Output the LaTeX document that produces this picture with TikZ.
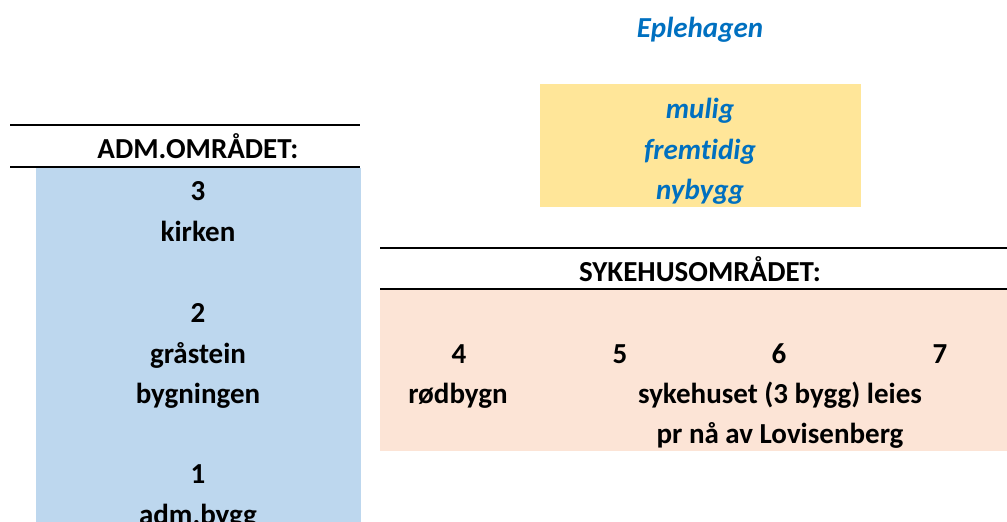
\documentclass[tikz,border=0pt]{standalone}
\usepackage{fontspec}
\setmainfont[Ligatures=NoCommon]{Carlito}
\definecolor{txtblue}{HTML}{0070C0}
\definecolor{yel}{HTML}{FFE699}
\definecolor{lblue}{HTML}{BDD7EE}
\definecolor{pink}{HTML}{FCE4D6}
\tikzset{
  lbl/.style={anchor=base, inner sep=0pt, font=\fontsize{29}{34}\selectfont\bfseries},
  blu/.style={lbl, text=txtblue, font=\fontsize{29}{34}\selectfont\bfseries\itshape},
  rule/.style={line width=2pt, black},
}
\begin{document}
\begin{tikzpicture}[x=1pt,y=-1pt]
\useasboundingbox (0,0) rectangle (1007,522);
\clip (0,0) rectangle (1007,522);
% filled areas
\fill[yel] (540,84) rectangle (861,207);
\fill[lblue] (36,168) rectangle (361,530);
\fill[pink] (380,290) rectangle (1007,451);
% rules
\coordinate (a1) at (10,125); \coordinate (a2) at (360,125);
\coordinate (b1) at (10,167); \coordinate (b2) at (360,167);
\coordinate (c1) at (380,248); \coordinate (c2) at (1007,248);
\coordinate (d1) at (380,289); \coordinate (d2) at (1007,289);
\draw[rule] (a1) -- (a2);
\draw[rule] (b1) -- (b2);
\draw[rule] (c1) -- (c2);
\draw[rule] (d1) -- (d2);
% top
\node[blu] (eple) at (700,37) {Eplehagen};
\node[blu] (mulig) at (700,118) {mulig};
\node[blu] (fremt) at (700,159) {fremtidig};
\node[blu] (nyb) at (700,199) {nybygg};
% adm
\node[lbl] (adm) at (198,158) {ADM.OMRÅDET:};
\node[lbl] (n3) at (198,200) {3};
\node[lbl] (kirk) at (198,241) {kirken};
\node[lbl] (n2) at (198,322.5) {2};
\node[lbl] (gra) at (198,363) {gråstein};
\node[lbl] (byg) at (198,403) {bygningen};
\node[lbl] (n1) at (198,483.5) {1};
\node[lbl] (admb) at (198,524) {adm.bygg};
% sykehus
\node[lbl] (syk) at (700,281) {SYKEHUSOMRÅDET:};
\node[lbl] (n4) at (459,363) {4};
\node[lbl] (n5) at (620,363) {5};
\node[lbl] (n6) at (779,363) {6};
\node[lbl] (n7) at (940,363) {7};
\node[lbl] (rod) at (458,403) {rødbygn};
\node[lbl] (sykh) at (780,403) {sykehuset (3 bygg) leies};
\node[lbl] (lov) at (780,443) {pr nå av Lovisenberg};
\end{tikzpicture}
\end{document}
